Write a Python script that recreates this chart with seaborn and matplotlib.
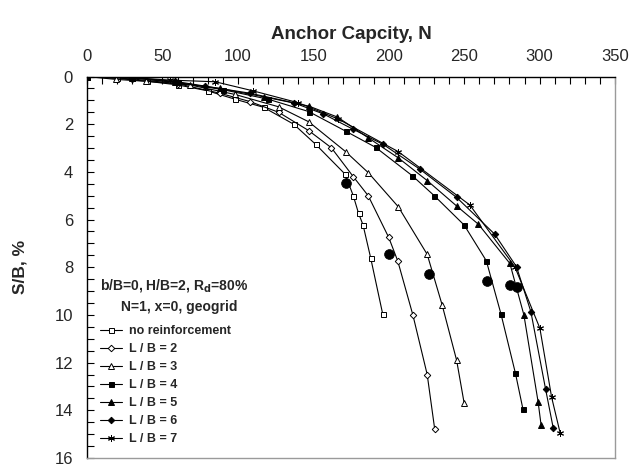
import matplotlib
matplotlib.use("Agg")
import matplotlib.pyplot as plt
from matplotlib.ticker import MultipleLocator
import seaborn as sns
import pandas as pd

sns.set_theme(style="white")
plt.rcParams['font.family'] = ['Liberation Sans', 'DejaVu Sans']

# ---------------- data ----------------
series_names = ["no reinforcement", "L / B = 2", "L / B = 3", "L / B = 4",
                "L / B = 5", "L / B = 6", "L / B = 7"]

nr_x = [0, 20, 40, 60, 80, 98, 117, 137, 151.5, 171, 176.5, 180, 183, 188, 196]
nr_y = [0, 0.08, 0.2, 0.35, 0.6, 0.95, 1.29, 2.0, 2.84, 4.09, 5.0, 5.74, 6.23, 7.6, 9.96]

lb2_x = [0, 30, 60, 88, 108, 127, 147, 162, 176.5, 186.4, 200, 206, 216, 225.5, 230.5]
lb2_y = [0, 0.1, 0.3, 0.7, 1.05, 1.5, 2.27, 2.99, 4.2, 5.0, 6.75, 7.74, 10.0, 12.5, 14.8]

lb3_x = [0, 19, 39, 68, 98, 127, 147, 171.4, 186.4, 206.3, 225.5, 235.4, 245, 250]
lb3_y = [0, 0.12, 0.2, 0.35, 0.75, 1.27, 1.9, 3.15, 4.03, 5.46, 7.46, 9.58, 11.9, 13.7]

lb4_x = [0, 30, 60, 90, 120, 147, 171.4, 191.3, 215.6, 230.2, 250, 264.7, 274.4, 284, 289]
lb4_y = [0, 0.05, 0.25, 0.55, 0.95, 1.47, 2.29, 2.97, 4.16, 5.0, 6.23, 7.73, 9.96, 12.45, 13.96]

lb5_x = [0, 30, 58, 88, 117, 147, 166, 186.4, 206.3, 225.6, 245, 259.5, 280.3, 289.6, 299, 301]
lb5_y = [0, 0.05, 0.25, 0.5, 0.85, 1.24, 1.7, 2.57, 3.41, 4.37, 5.43, 6.2, 7.84, 10.0, 13.64, 14.62]

lb6_x = [0, 29, 58, 78, 108, 137, 156.7, 176, 196.4, 220.7, 245, 270.2, 284.7, 294.2, 304, 309]
lb6_y = [0, 0.04, 0.2, 0.4, 0.7, 1.1, 1.57, 2.2, 2.85, 3.89, 5.07, 6.61, 7.98, 9.86, 13.12, 14.73]

lb7_x = [0, 30, 55, 85, 110, 140, 166.4, 206.3, 253.8, 283.6, 300.2, 308, 313.7]
lb7_y = [0, 0.05, 0.15, 0.22, 0.6, 1.1, 1.78, 3.15, 5.39, 7.98, 10.56, 13.46, 14.97]

# failure points (large black dots)
fail_x = [171.5, 200, 226.6, 265, 280.3, 285.1]
fail_y = [4.48, 7.46, 8.28, 8.56, 8.75, 8.84]

x_ticks = [0, 50, 100, 150, 200, 250, 300, 350]
y_ticks = [0, 2, 4, 6, 8, 10, 12, 14, 16]

# ---------------- build table ----------------
all_x = [nr_x, lb2_x, lb3_x, lb4_x, lb5_x, lb6_x, lb7_x]
all_y = [nr_y, lb2_y, lb3_y, lb4_y, lb5_y, lb6_y, lb7_y]
rows = []
for name, xs, ys in zip(series_names, all_x, all_y):
    for i, (a, b) in enumerate(zip(xs, ys)):
        rows.append({"series": name, "N": a, "SB": b, "order": i})
df = pd.DataFrame(rows)
fail_df = pd.DataFrame({"N": fail_x, "SB": fail_y})

styles = {
    "no reinforcement": dict(marker="s", mfc="white", ms=3.6),
    "L / B = 2": dict(marker="D", mfc="white", ms=3.3),
    "L / B = 3": dict(marker="^", mfc="white", ms=4.6),
    "L / B = 4": dict(marker="s", mfc="black", ms=3.6),
    "L / B = 5": dict(marker="^", mfc="black", ms=4.6),
    "L / B = 6": dict(marker="D", mfc="black", ms=3.3),
    "L / B = 7": dict(marker=(6, 2, 0), mfc="black", ms=5),
}

fig = plt.figure(figsize=(6.44, 4.66), dpi=100)
ax = fig.add_axes([0.1351, 0.0172, 0.955 - 0.1351, 0.8358 - 0.0172])

for name in series_names:
    sub = df[df["series"] == name].sort_values("order")
    st = styles[name]
    sns.lineplot(data=sub, x="N", y="SB", sort=False, estimator=None, ax=ax,
                 color="black", lw=0.8, marker=st["marker"], ms=st["ms"],
                 mfc=st["mfc"], mec="black", mew=0.7, label=name)

sns.scatterplot(data=fail_df, x="N", y="SB", ax=ax, color="black", s=50,
                edgecolor="black", linewidth=0.5, zorder=5, legend=False)

ax.set_xlim(0, 350)
ax.set_ylim(16, 0)
ax.xaxis.tick_top()
ax.xaxis.set_label_position("top")
ax.set_xticks(x_ticks)
ax.set_yticks(y_ticks)
ax.xaxis.set_minor_locator(MultipleLocator(10))
ax.yaxis.set_minor_locator(MultipleLocator(0.5))
ax.tick_params(axis="x", which="both", top=True, bottom=False, direction="in",
               length=5, width=0.8, color="black", labelsize=12, pad=9)
ax.tick_params(axis="y", which="both", left=True, right=False, direction="in",
               length=5, width=0.8, color="black", labelsize=12, pad=10)

ax.set_xlabel("Anchor Capcity, N", fontsize=13.5, fontweight="bold", labelpad=7)
ax.set_ylabel("S/B, %", fontsize=12.5, fontweight="bold")
ax.yaxis.set_label_coords(-0.113, 0.5)

for side in ["top", "left"]:
    ax.spines[side].set_color("black")
    ax.spines[side].set_linewidth(1.0)
for side in ["right", "bottom"]:
    ax.spines[side].set_color("#9a9a9a")
    ax.spines[side].set_linewidth(1.0)

fig.text(174.5 / 644, 1 - 285 / 466, "b/B=0, H/B=2, R$_\\mathbf{d}$=80%", ha="center",
         va="center", fontsize=10, fontweight="bold")
fig.text(179 / 644, 1 - 306.5 / 466, "N=1, x=0, geogrid", ha="center",
         va="center", fontsize=10, fontweight="bold")

leg = ax.legend(loc="upper left", bbox_to_anchor=(100 / 644, 1 - 325 / 466),
                bbox_transform=fig.transFigure, frameon=False,
                prop={"weight": "bold", "size": 9}, handlelength=1.75,
                handletextpad=0.55, labelspacing=0.48, borderpad=0,
                borderaxespad=0)

fig.savefig("out.png", dpi=100)
